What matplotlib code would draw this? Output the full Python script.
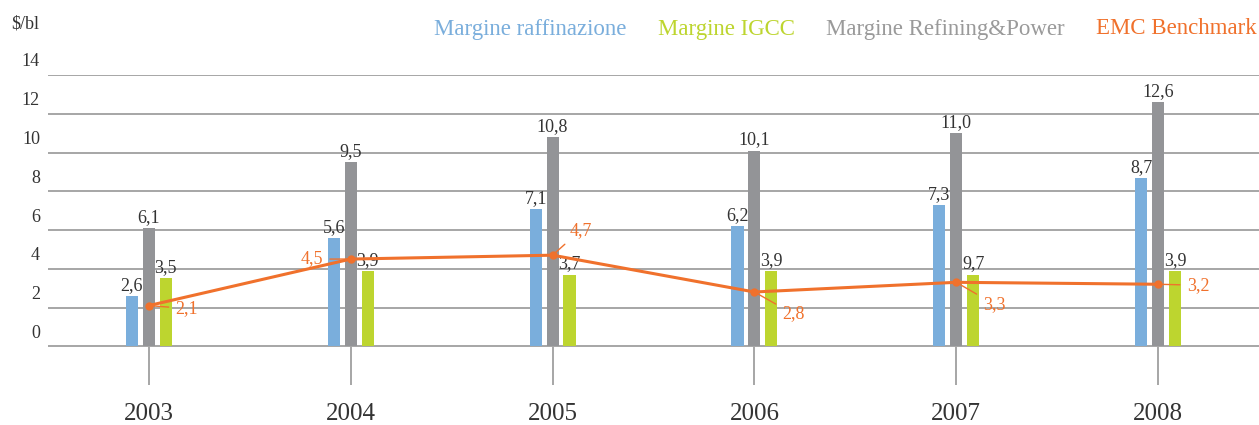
import matplotlib
matplotlib.use("Agg")
import matplotlib.pyplot as plt
import matplotlib.transforms as mtransforms
import numpy as np

plt.rcParams['font.family'] = ['Liberation Serif', 'DejaVu Serif']

# Data
years = ["2003", "2004", "2005", "2006", "2007", "2008"]
margine_raffinazione = [2.6, 5.6, 7.1, 6.2, 7.3, 8.7]
margine_refining_power = [6.1, 9.5, 10.8, 10.1, 11.0, 12.6]
margine_igcc = [3.5, 3.9, 3.7, 3.9, 3.7, 3.9]
margine_igcc_labels = ["3,5", "3,9", "3,7", "3,9", "9,7", "3,9"]
emc_benchmark = [2.1, 4.5, 4.7, 2.8, 3.3, 3.2]
y_ticks = [0, 2, 4, 6, 8, 10, 12, 14]

BLUE = "#7AAEDC"
GREEN = "#BDD52F"
GREY = "#939497"
ORANGE = "#F0712C"
TEXT = "#333333"
GRID = "#A6A6A6"

W, H = 1259, 425
fig = plt.figure(figsize=(W / 100, H / 100), dpi=100)
ax = fig.add_axes([48 / W, 1 - 385 / H, 1 - 48 / W, (385 - 75) / H])

x = np.arange(len(years))
bw = 0.06
off = 0.084

def fmt(v):
    return f"{v:.1f}".replace(".", ",")

ax.bar(x - off, margine_raffinazione, bw, color=BLUE, zorder=3)
ax.bar(x, margine_refining_power, bw, color=GREY, zorder=3)
ax.bar(x + off, margine_igcc, bw, color=GREEN, zorder=3)

lab_kw = dict(ha="center", va="bottom", fontsize=13, color=TEXT, zorder=5)
for i in range(len(years)):
    ax.annotate(fmt(margine_raffinazione[i]), (x[i] - off, margine_raffinazione[i]),
                xytext=(0, 2), textcoords="offset pixels", **lab_kw)
    ax.annotate(fmt(margine_refining_power[i]), (x[i], margine_refining_power[i]),
                xytext=(0, 2), textcoords="offset pixels", **lab_kw)
    ax.annotate(margine_igcc_labels[i], (x[i] + off, margine_igcc[i]),
                xytext=(0, 2), textcoords="offset pixels", **lab_kw)

ax.plot(x, emc_benchmark, color=ORANGE, lw=2.2, marker="o", ms=5, zorder=6)

# Benchmark value labels with leader lines (pixel offsets from each point)
lbl_off = [(38, -3), (-39, 0), (28, 25), (39, -22), (38, -22), (40, -1)]
for i, (dx, dy) in enumerate(lbl_off):
    ax.annotate(fmt(emc_benchmark[i]), (x[i], emc_benchmark[i]),
                xytext=(dx, dy), textcoords="offset pixels",
                ha="center", va="center", fontsize=13, color=ORANGE, zorder=7,
                arrowprops=dict(arrowstyle="-", color=ORANGE, lw=1,
                                shrinkA=3, shrinkB=0))

ax.set_xlim(-0.5, len(years) - 0.5)
ax.set_ylim(-2, 14)
ax.set_yticks(y_ticks)
ax.yaxis.grid(True, color=GRID, lw=1.4, zorder=0)
ax.tick_params(axis="y", length=0, labelleft=False)
for s in ax.spines.values():
    s.set_visible(False)

# y labels sit above their gridlines
ylab_tr = mtransforms.blended_transform_factory(fig.transFigure, ax.transData)
ylab_tr = ylab_tr + mtransforms.ScaledTranslation(0, 13 / 100, fig.dpi_scale_trans)
for t in y_ticks:
    ax.text(40 / W, t, str(t), transform=ylab_tr, ha="right", va="center",
            fontsize=13, color=TEXT)

# category ticks below the zero line
ax.vlines(x, -2, 0, color=GRID, lw=1.4, zorder=1)
ax.set_xticks(x)
ax.set_xticklabels(years, fontsize=18, color=TEXT)
ax.tick_params(axis="x", length=0, pad=13)

fig.text(25 / W, 1 - 24 / H, "$/bl", ha="center", va="center",
         fontsize=13, color=TEXT)

# Text-only legend, evenly spaced between x=434 px and the right edge
legend_items = [("Margine raffinazione", BLUE),
                ("Margine IGCC", GREEN),
                ("Margine Refining&Power", "#9A9A9A"),
                ("EMC Benchmark", ORANGE)]
renderer = fig.canvas.get_renderer()
texts = [fig.text(0, 1 - 29 / H, t, ha="left", va="center", fontsize=16.5, color=c)
         for t, c in legend_items]
widths = [t.get_window_extent(renderer).width for t in texts]
x0, x1 = 434, W - 2
gap = (x1 - x0 - sum(widths)) / (len(texts) - 1)
px = x0
for t, w in zip(texts, widths):
    t.set_x(px / W)
    px += w + gap

fig.savefig("out.png", dpi=100)
